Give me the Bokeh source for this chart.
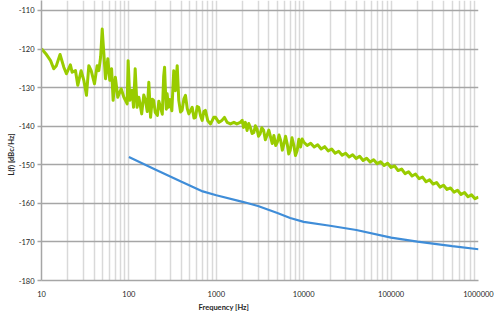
from bokeh.plotting import figure
from bokeh.models import FixedTicker, Range1d, Title
from bokeh.embed import file_html
from bokeh.resources import INLINE

# ---- data ----
green_freq = [
    10, 11.2, 12.7, 13.8, 14.8, 16.3, 18, 19.3, 21.4, 22.4, 24.5, 26, 28.4, 30.5, 32.7, 34.8, 37, 40.4, 43.3, 45.3,
    47.5, 49.5, 51.7, 54, 57.4, 60.5, 63.4, 66, 70, 74.6, 81.6, 87.6, 95.5, 98, 102.5, 109, 113, 118, 124, 130,
    135, 140, 148, 155, 162, 169, 177, 185, 192, 200, 212, 220, 230, 241, 250, 256, 261, 268, 274, 284,
    295, 310, 326, 340, 357, 372, 390, 406, 425, 444, 465, 485, 530, 555, 578, 605, 630, 660, 690, 720,
    750, 800, 860, 900, 935, 980, 1067, 1160, 1240, 1330, 1450, 1590, 1720, 1880, 1980, 2050, 2150, 2250, 2350, 2450,
    2570, 2690, 2800, 2920, 3040, 3170, 3320, 3480, 3640, 3800, 3990, 4180, 4370, 4560, 4780, 5000, 5220, 5450, 5700, 5940,
    6200, 6480, 6740, 7000, 7350, 7720, 8050, 8420, 8800, 9200, 9600,
    10000, 10960, 12020, 13180, 14450, 15850, 17380, 19050, 20890, 22910, 25120, 27540, 30200, 33110, 36310, 39810,
    43650, 47860, 52480, 57540, 63100, 69180, 75860, 83180, 91200, 100000, 109600, 120200, 131800, 144500, 158500,
    173800, 190500, 208900, 229100, 251200, 275400, 302000, 331100, 363100, 398100, 436500, 478600, 524800, 575400,
    631000, 691800, 758600, 831800, 912000, 1000000,
]
green_level = [
    -119.9, -121.2, -123.0, -125.1, -124.3, -121.4, -124.7, -126.4, -124.1, -126.0, -125.6, -129.4, -125.6, -128.1, -132.0, -124.3, -125.6, -129.0, -124.3, -125.6,
    -122.0, -114.8, -121.2, -127.7, -122.5, -128.1, -125.1, -133.3, -127.3, -132.5, -130.3, -132.5, -134.2, -123.0, -133.3, -130.7, -135.1, -125.1, -135.1, -132.5,
    -134.6, -136.8, -131.9, -133.3, -136.2, -128.6, -137.7, -133.0, -133.3, -136.4, -137.2, -133.5, -135.1, -136.9, -127.0, -124.7, -129.9, -135.6, -131.6, -135.1,
    -133.1, -136.0, -125.6, -130.8, -124.3, -133.3, -136.3, -135.9, -133.0, -132.0, -135.4, -136.8, -135.1, -137.9, -137.7, -134.9, -135.1, -137.3, -138.5, -136.2,
    -135.9, -138.6, -139.4, -138.5, -137.7, -137.7, -139.0, -138.5, -137.7, -139.0, -139.4, -139.0, -139.4, -139.0, -138.5, -140.3, -139.0, -141.1, -139.3, -140.3,
    -141.9, -141.6, -139.9, -140.7, -142.6, -142.0, -140.4, -141.1, -143.5, -142.4, -141.0, -142.8, -144.5, -142.4, -145.0, -144.1, -142.3, -143.7, -146.2, -144.6,
    -142.6, -144.6, -147.2, -146.3, -143.0, -145.0, -147.6, -146.3, -143.4, -145.4, -143.3,
    -144.1, -145.0, -144.4, -145.4, -144.8, -145.9, -145.3, -146.4, -145.9, -147.0, -146.5, -147.5, -147.0, -148.0, -147.4, -148.4,
    -147.8, -148.9, -148.3, -149.3, -148.7, -149.7, -149.2, -150.2, -149.6, -150.7, -150.3, -151.5, -151.1, -152.3, -151.8,
    -152.9, -152.4, -153.6, -153.2, -154.4, -153.9, -155.0, -154.6, -155.8, -155.3, -156.4, -156.0, -157.1, -156.6,
    -157.7, -157.2, -158.3, -157.8, -158.8, -158.4,
]

blue_freq = [100, 200, 400, 700, 1000, 2000, 3000, 5000, 7000, 10000, 20000, 40000, 100000, 200000, 500000, 1000000]
blue_level = [-148.0, -151.2, -154.4, -156.9, -157.9, -159.6, -160.7, -162.5, -163.8, -164.8, -165.8, -166.9, -168.9, -169.9, -171.1, -171.9]

x_ticks = [10, 100, 1000, 10000, 100000, 1000000]
x_tick_labels = ["10", "100", "1000", "10000", "100000", "1000000"]
y_ticks = [-180, -170, -160, -150, -140, -130, -120, -110]
y_tick_labels = ["-180", "-170", "-160", "-150", "-140", "-130", "-120", "-110"]
x_title = "Frequency [Hz]"
y_title = "L(f) [dBc/Hz]"

FONT = "Lato"

p = figure(width=496, height=318, x_axis_type="log", output_backend="svg",
           toolbar_location=None,
           x_range=Range1d(10, 1000000), y_range=Range1d(-180, -107.41),
           min_border_left=41, min_border_right=18, min_border_top=0, min_border_bottom=38)
p.outline_line_color = None
p.background_fill_color = "white"
p.border_fill_color = "white"

minor = [m * d for d in x_ticks[:-1] for m in range(2, 10)]
p.xaxis.ticker = FixedTicker(ticks=x_ticks, minor_ticks=minor)
p.xaxis.major_label_overrides = {t: l for t, l in zip(x_ticks, x_tick_labels)}
p.yaxis.ticker = FixedTicker(ticks=y_ticks)
p.yaxis.major_label_overrides = {t: l for t, l in zip(y_ticks, y_tick_labels)}

p.xgrid.grid_line_color = "#d9d9d9"
p.xgrid.grid_line_width = 1.5
p.xgrid.minor_grid_line_color = "#d9d9d9"
p.xgrid.minor_grid_line_width = 1.5
p.ygrid.grid_line_color = "#a6a6a6"
p.ygrid.grid_line_width = 1.5

for ax in (p.xaxis[0], p.yaxis[0]):
    ax.axis_line_color = "#a6a6a6"
    ax.axis_line_width = 1.5
    ax.major_tick_line_color = "#a6a6a6"
    ax.major_tick_line_width = 1.5
    ax.minor_tick_line_color = None
    ax.major_tick_in = 0
    ax.major_label_text_font = FONT
    ax.major_label_text_font_size = "7.5px"
    ax.major_label_text_color = "#262626"
p.yaxis.major_tick_out = 4
p.yaxis.major_label_standoff = 3
p.xaxis.major_tick_out = 0
p.xaxis.major_label_standoff = 6

p.line(green_freq, green_level, line_color="#99cc00", line_width=3, line_join="round")
p.line(blue_freq, blue_level, line_color="#3f8dd8", line_width=2.2)

p.add_layout(Title(text=x_title, align="left", offset=157, standoff=2,
                   text_font=FONT, text_font_size="7.5px", text_font_style="bold", text_color="#262626"), "below")
p.add_layout(Title(text=y_title, align="left", offset=105, standoff=0,
                   text_font=FONT, text_font_size="7.5px", text_font_style="bold", text_color="#262626"), "left")

open("out.html", "w").write(file_html(p, INLINE))
